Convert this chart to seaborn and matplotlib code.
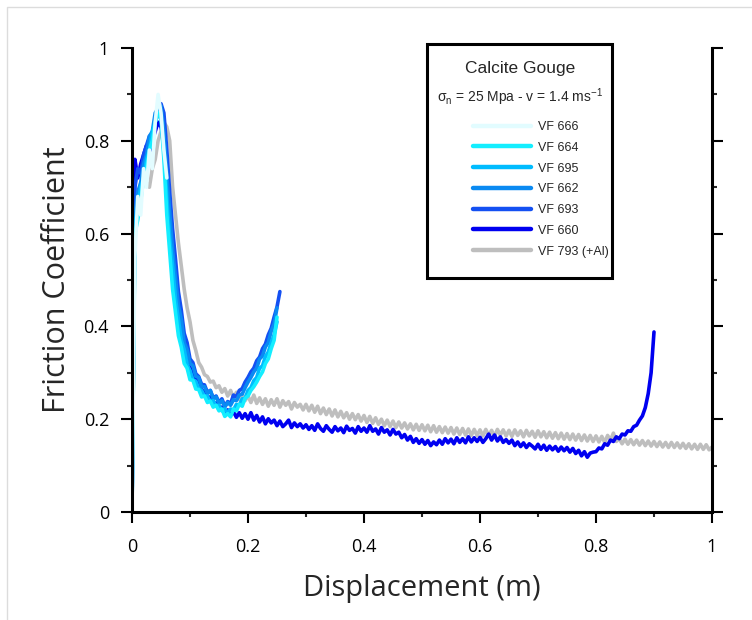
import numpy as np
import pandas as pd
import matplotlib
matplotlib.use("Agg")
import matplotlib.pyplot as plt
from matplotlib.lines import Line2D
from matplotlib.patches import Rectangle
import seaborn as sns

# ---------------- data ----------------
STEP = 0.005

vf793 = [  # VF 793 (+Al), 0 .. 1.0 m
    0.00, 0.62, 0.69, 0.70, 0.72, 0.71, 0.70, 0.74, 0.76, 0.80,
    0.82, 0.84, 0.83, 0.80, 0.70, 0.64, 0.58, 0.53, 0.48, 0.44,
    0.41, 0.37, 0.348, 0.322, 0.312, 0.296, 0.292, 0.28, 0.282, 0.268,
    0.272, 0.258, 0.266, 0.25, 0.262, 0.246, 0.258, 0.242, 0.254, 0.24,
    0.25, 0.236, 0.252, 0.234, 0.246, 0.232, 0.244, 0.228, 0.242, 0.23,
    0.244, 0.226, 0.24, 0.23, 0.238, 0.222, 0.236, 0.226, 0.232, 0.22,
    0.232, 0.218, 0.23, 0.215, 0.228, 0.212, 0.224, 0.21, 0.222, 0.207,
    0.22, 0.205, 0.217, 0.203, 0.214, 0.2, 0.212, 0.199, 0.21, 0.196,
    0.208, 0.193, 0.206, 0.191, 0.203, 0.189, 0.2, 0.186, 0.198, 0.184,
    0.196, 0.182, 0.194, 0.181, 0.192, 0.179, 0.19, 0.177, 0.189, 0.176,
    0.188, 0.175, 0.187, 0.173, 0.186, 0.172, 0.184, 0.171, 0.183, 0.17,
    0.182, 0.168, 0.181, 0.167, 0.18, 0.166, 0.179, 0.165, 0.178, 0.165,
    0.177, 0.164, 0.178, 0.165, 0.176, 0.163, 0.178, 0.166, 0.177, 0.164,
    0.176, 0.163, 0.177, 0.165, 0.175, 0.162, 0.176, 0.164, 0.174, 0.161,
    0.175, 0.162, 0.173, 0.16, 0.172, 0.159, 0.171, 0.158, 0.17, 0.157,
    0.169, 0.156, 0.168, 0.155, 0.167, 0.154, 0.166, 0.153, 0.165, 0.152,
    0.164, 0.151, 0.163, 0.15, 0.165, 0.155, 0.17, 0.152, 0.158, 0.147,
    0.157, 0.146, 0.156, 0.145, 0.155, 0.144, 0.154, 0.143, 0.153, 0.142,
    0.152, 0.141, 0.151, 0.14, 0.15, 0.139, 0.15, 0.139, 0.149, 0.138,
    0.148, 0.137, 0.147, 0.136, 0.146, 0.135, 0.146, 0.135, 0.145, 0.134,
    0.14,
]

vf660 = [  # VF 660, 0 .. 0.9 m
    0.00, 0.76, 0.72, 0.75, 0.77, 0.79, 0.77, 0.80, 0.82, 0.84,
    0.83, 0.80, 0.72, 0.63, 0.55, 0.48, 0.43, 0.395, 0.355, 0.34,
    0.31, 0.305, 0.284, 0.28, 0.262, 0.26, 0.246, 0.248, 0.232, 0.235,
    0.222, 0.226, 0.212, 0.22, 0.208, 0.216, 0.204, 0.214, 0.202, 0.212,
    0.2, 0.214, 0.198, 0.208, 0.194, 0.205, 0.19, 0.201, 0.192, 0.198,
    0.186, 0.196, 0.184, 0.19, 0.198, 0.182, 0.192, 0.184, 0.19, 0.181,
    0.188, 0.178, 0.186, 0.176, 0.19, 0.18, 0.174, 0.186, 0.178, 0.172,
    0.184, 0.175, 0.181, 0.171, 0.185, 0.176, 0.18, 0.17, 0.184, 0.174,
    0.181, 0.172, 0.186, 0.174, 0.179, 0.168, 0.182, 0.172, 0.177, 0.166,
    0.178, 0.168, 0.172, 0.16, 0.167, 0.155, 0.163, 0.15, 0.158, 0.148,
    0.156, 0.146, 0.154, 0.143, 0.151, 0.145, 0.155, 0.146, 0.158, 0.149,
    0.157, 0.147, 0.16, 0.15, 0.158, 0.149, 0.162, 0.151, 0.16, 0.152,
    0.161, 0.15, 0.158, 0.168, 0.155, 0.166, 0.153, 0.162, 0.15, 0.156,
    0.148, 0.155, 0.143, 0.151, 0.141, 0.149, 0.139, 0.147, 0.142, 0.136,
    0.146, 0.135, 0.144, 0.133, 0.142, 0.134, 0.141, 0.131, 0.14, 0.132,
    0.139, 0.129, 0.137, 0.126, 0.133, 0.121, 0.13, 0.118, 0.127, 0.129,
    0.13, 0.138, 0.136, 0.147, 0.144, 0.155, 0.152, 0.162, 0.158, 0.168,
    0.166, 0.175, 0.174, 0.184, 0.187, 0.198, 0.207, 0.225, 0.255, 0.30,
    0.388,
]

vf693 = [  # VF 693, 0 .. 0.255 m
    0.00, 0.70, 0.74, 0.73, 0.77, 0.79, 0.81, 0.80, 0.84, 0.86,
    0.88, 0.86, 0.78, 0.69, 0.61, 0.545, 0.475, 0.435, 0.385, 0.365,
    0.33, 0.322, 0.298, 0.292, 0.275, 0.274, 0.258, 0.262, 0.246, 0.25,
    0.236, 0.244, 0.228, 0.238, 0.234, 0.252, 0.248, 0.262, 0.266, 0.28,
    0.29, 0.302, 0.31, 0.326, 0.334, 0.352, 0.362, 0.382, 0.396, 0.42,
    0.442, 0.475,
]

vf662 = [  # VF 662, 0 .. 0.25 m
    0.00, 0.64, 0.69, 0.71, 0.75, 0.77, 0.81, 0.82, 0.86, 0.87,
    0.875, 0.82, 0.73, 0.645, 0.565, 0.505, 0.445, 0.415, 0.365, 0.35,
    0.32, 0.315, 0.292, 0.29, 0.27, 0.27, 0.255, 0.262, 0.244, 0.248,
    0.234, 0.24, 0.226, 0.236, 0.23, 0.242, 0.24, 0.252, 0.254, 0.268,
    0.28, 0.29, 0.302, 0.31, 0.33, 0.336, 0.356, 0.365, 0.39, 0.405,
    0.44,
]

vf695 = [  # VF 695, 0 .. 0.25 m
    0.00, 0.62, 0.66, 0.70, 0.72, 0.76, 0.78, 0.82, 0.84, 0.86,
    0.85, 0.78, 0.68, 0.59, 0.53, 0.46, 0.415, 0.37, 0.35, 0.318,
    0.305, 0.285, 0.282, 0.266, 0.262, 0.25, 0.25, 0.238, 0.24, 0.228,
    0.23, 0.218, 0.222, 0.214, 0.222, 0.22, 0.232, 0.23, 0.244, 0.245,
    0.262, 0.268, 0.283, 0.29, 0.31, 0.315, 0.335, 0.345, 0.365, 0.382,
    0.41,
]

vf664 = [  # VF 664, 0 .. 0.25 m
    0.00, 0.60, 0.63, 0.67, 0.72, 0.74, 0.78, 0.80, 0.84, 0.86,
    0.85, 0.76, 0.64, 0.56, 0.48, 0.43, 0.38, 0.355, 0.32, 0.31,
    0.285, 0.284, 0.265, 0.264, 0.248, 0.25, 0.236, 0.239, 0.226, 0.23,
    0.218, 0.222, 0.206, 0.212, 0.205, 0.222, 0.218, 0.232, 0.228, 0.245,
    0.25, 0.262, 0.27, 0.28, 0.292, 0.302, 0.32, 0.33, 0.352, 0.37,
    0.42,
]

vf666 = [  # VF 666, 0 .. 0.06 m
    0.00, 0.55, 0.68, 0.64, 0.74, 0.70, 0.78, 0.74, 0.84, 0.90,
    0.86, 0.78, 0.72,
]

legend_order = ["VF 666", "VF 664", "VF 695", "VF 662", "VF 693", "VF 660", "VF 793 (+Al)"]
legend_colors = ["#E2FCFF", "#14EEFF", "#00BCFF", "#0A8AF2", "#1450F2", "#0000F0", "#BEBEBE"]
draw_order = ["VF 793 (+Al)", "VF 660", "VF 693", "VF 662", "VF 695", "VF 664", "VF 666"]
series = {
    "VF 793 (+Al)": vf793, "VF 660": vf660, "VF 693": vf693, "VF 662": vf662,
    "VF 695": vf695, "VF 664": vf664, "VF 666": vf666,
}

x_ticks = [0, 0.2, 0.4, 0.6, 0.8, 1.0]
x_tick_labels = ["0", "0.2", "0.4", "0.6", "0.8", "1"]
y_ticks = [0, 0.2, 0.4, 0.6, 0.8, 1.0]
y_tick_labels = ["0", "0.2", "0.4", "0.6", "0.8", "1"]
minor_ticks = [0.1, 0.3, 0.5, 0.7, 0.9]

# ---------------- build table ----------------
rows = []
for name in draw_order:
    vals = series[name]
    for i, v in enumerate(vals):
        rows.append({"Displacement": round(i * STEP, 4), "Friction": v, "Sample": name})
df = pd.DataFrame(rows)
palette = dict(zip(legend_order, legend_colors))

# ---------------- style ----------------
sns.set_style("ticks")
plt.rcParams["font.family"] = ["Open Sans", "DejaVu Sans"]
plt.rcParams["mathtext.default"] = "regular"

fig = plt.figure(figsize=(7.52, 6.2), dpi=100)
ax = fig.add_axes([132 / 752, 1 - 512 / 620, 580 / 752, 464 / 620])

sns.lineplot(data=df, x="Displacement", y="Friction", hue="Sample",
             hue_order=draw_order, palette=palette, estimator=None, sort=False,
             linewidth=2.6, legend=False, ax=ax)

ax.set_xlim(0, 1)
ax.set_ylim(0, 1)
ax.set_xticks(x_ticks)
ax.set_xticklabels(x_tick_labels)
ax.set_yticks(y_ticks)
ax.set_yticklabels(y_tick_labels)
ax.set_xticks(minor_ticks, minor=True)
ax.set_yticks(minor_ticks, minor=True)

for s in ["left", "bottom", "right"]:
    ax.spines[s].set_visible(True)
    ax.spines[s].set_linewidth(2.2)
    ax.spines[s].set_color("black")
ax.spines["top"].set_visible(False)

ax.tick_params(axis="both", which="major", direction="out", length=8, width=1.5,
               labelsize=13, colors="black")
ax.tick_params(axis="both", which="minor", direction="out", length=3.8, width=1.5)
ax.tick_params(axis="y", which="both", right=True, left=True)
ax.tick_params(axis="y", which="major", pad=8.5)
ax.tick_params(axis="x", which="major", pad=11)

ax.set_xlabel("Displacement (m)", fontsize=21, labelpad=13)
ax.set_ylabel("Friction Coefficient", fontsize=22, labelpad=8)

# legend box
lfam = ["Liberation Sans", "DejaVu Sans"]
box = Rectangle(((427 - 132) / 580, (512 - 278) / 464), (612 - 427) / 580, (278 - 44) / 464,
                transform=ax.transAxes, facecolor="white", edgecolor="black",
                linewidth=2.2, clip_on=False, zorder=10)
ax.add_patch(box)
cx = (520 - 132) / 580
ax.text(cx, (512 - 68) / 464, "Calcite Gouge", transform=ax.transAxes, ha="center",
        va="center", fontsize=12.5, family=lfam, zorder=11)
ax.text(cx, (512 - 97) / 464, "σ$_n$ = 25 Mpa - v = 1.4 ms$^{-1}$", transform=ax.transAxes,
        ha="center", va="center", fontsize=10, family=lfam, zorder=11)

handles = [Line2D([], [], color=c, lw=3.2, solid_capstyle="round") for c in legend_colors]
leg = ax.legend(handles, legend_order, loc="upper left",
                bbox_to_anchor=((473 - 132) / 580, (512 - 121) / 464),
                frameon=False, handlelength=4.6, handletextpad=0.6,
                labelspacing=0.7, borderaxespad=0, borderpad=0,
                prop={"family": lfam, "size": 9})
leg.set_zorder(12)

# faint outer frame of the figure
fig.patches.append(Rectangle((7 / 752, -0.1), 1.2, 1 - 7 / 620 + 0.1, transform=fig.transFigure,
                             fill=False, edgecolor="#dcdcdc", linewidth=1.0))

fig.savefig("out.png", dpi=100)
